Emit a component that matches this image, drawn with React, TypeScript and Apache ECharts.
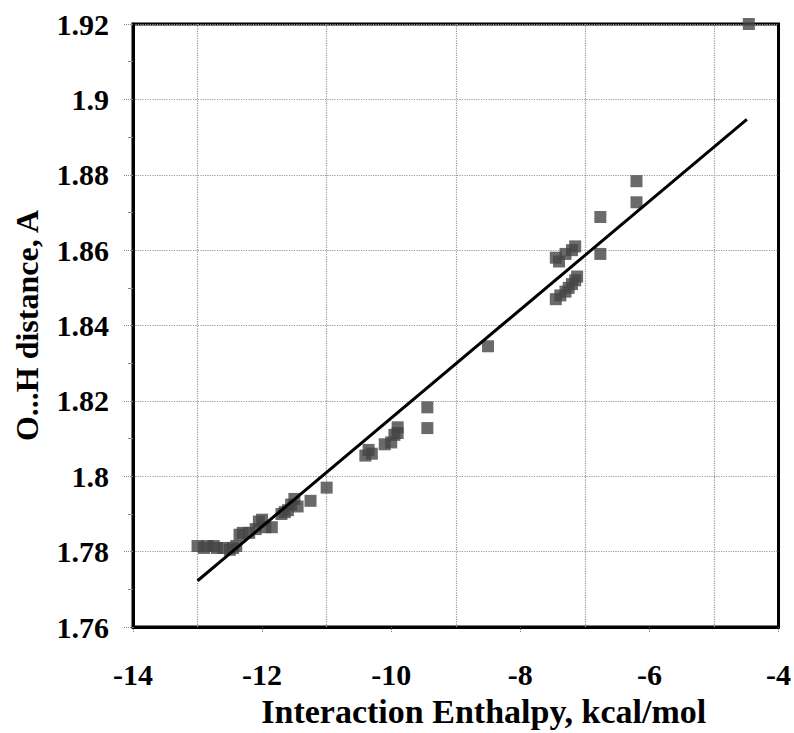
import React, { useEffect, useRef } from "react";
import * as echarts from "echarts";

// Scatter data: Interaction enthalpy (kcal/mol) vs O...H distance (Å)
const enthalpy = [
  -13.0, -12.9, -12.85, -12.75, -12.7, -12.6, -12.5, -12.45, -12.4,
  -12.35, -12.3, -12.2, -12.1, -12.05, -12.0, -11.95, -11.85,
  -11.7, -11.65, -11.6, -11.55, -11.5, -11.45, -11.25, -11.0,
  -10.4, -10.35, -10.3, -10.1, -10.0, -9.95, -9.9, -9.9,
  -9.44, -9.44, -8.5,
  -7.45, -7.4, -7.3, -7.2, -7.15, -7.45, -7.38, -7.3, -7.25, -7.2, -7.15, -7.12,
  -6.76, -6.76, -6.2, -6.2, -4.46,
];
const distance = [
  1.7815, 1.781, 1.7815, 1.7815, 1.781, 1.781, 1.7805, 1.781, 1.7815,
  1.7845, 1.785, 1.785, 1.786, 1.788, 1.7885, 1.7865, 1.7865,
  1.790, 1.7905, 1.791, 1.7925, 1.794, 1.792, 1.7935, 1.797,
  1.8055, 1.807, 1.806, 1.8085, 1.809, 1.811, 1.813, 1.8115,
  1.8183, 1.8128, 1.8345,
  1.858, 1.857, 1.859, 1.86, 1.861, 1.847, 1.848, 1.849, 1.85, 1.851, 1.852, 1.853,
  1.8688, 1.859, 1.8783, 1.8727, 1.92,
];

// Linear trend line end points
const trendX = [-13.0, -4.49];
const trendY = [1.7723, 1.8947];

// Vertical grid lines (at odd x values)
const gridX = [-13, -11, -9, -7, -5];

export default function App() {
  const ref = useRef<HTMLDivElement>(null);
  useEffect(() => {
    if (!ref.current) return;
    const chart = echarts.init(ref.current, null, { renderer: "svg" });
    const font = "'Liberation Serif', 'Times New Roman', serif";
    chart.setOption({
      animation: false,
      backgroundColor: "#fff",
      grid: {
        left: 133,
        right: 11,
        top: 24,
        bottom: 103,
        show: true,
        borderColor: "#000",
        borderWidth: 3,
      },
      xAxis: {
        type: "value",
        min: -14,
        max: -4,
        interval: 2,
        name: "Interaction Enthalpy, kcal/mol",
        nameLocation: "middle",
        nameGap: 63,
        nameTextStyle: {
          fontFamily: font,
          fontSize: 34,
          fontWeight: "bold",
          color: "#000",
          padding: [0, 0, 0, 56],
        },
        axisLine: { show: true, onZero: false, lineStyle: { color: "#000", width: 3 } },
        axisTick: { show: true, inside: false, length: 6, lineStyle: { color: "#777", type: "dotted" } },
        axisLabel: {
          fontFamily: font,
          fontSize: 30,
          fontWeight: "bold",
          color: "#000",
          margin: 32,
          formatter: (v: number) => String(v),
        },
        splitLine: { show: false },
      },
      yAxis: {
        type: "value",
        min: 1.76,
        max: 1.92,
        interval: 0.02,
        name: "O...H distance, A",
        nameLocation: "middle",
        nameGap: 90,
        nameTextStyle: { fontFamily: font, fontSize: 32, fontWeight: "bold", color: "#000" },
        axisLine: { show: true, onZero: false, lineStyle: { color: "#000", width: 3 } },
        axisTick: { show: true, length: 10, lineStyle: { color: "#888", type: "dotted" } },
        minorTick: { show: true, splitNumber: 2, length: 5, lineStyle: { color: "#888" } },
        axisLabel: {
          fontFamily: font,
          fontSize: 30,
          fontWeight: "bold",
          color: "#000",
          margin: 24,
          formatter: (v: number) => String(parseFloat(v.toFixed(2))),
        },
        splitLine: { show: true, lineStyle: { color: "#999", type: "dotted", width: 1.2 } },
      },
      series: [
        {
          type: "scatter",
          data: enthalpy.map((x, i) => [x, distance[i]]),
          symbol: "rect",
          symbolSize: 12,
          itemStyle: { color: "#454545" },
          z: 3,
          markLine: {
            silent: true,
            symbol: "none",
            label: { show: false },
            lineStyle: { color: "#999", type: "dotted", width: 1.2 },
            data: gridX.map((x) => ({ xAxis: x })),
            z: 1,
          },
        },
        {
          type: "line",
          data: trendX.map((x, i) => [x, trendY[i]]),
          showSymbol: false,
          symbol: "none",
          lineStyle: { color: "#000", width: 3 },
          z: 4,
        },
      ],
    });
    return () => chart.dispose();
  }, []);
  return (
    <div
      ref={ref}
      style={{ position: "absolute", left: 0, top: 0, width: 794, height: 733 }}
    />
  );
}
